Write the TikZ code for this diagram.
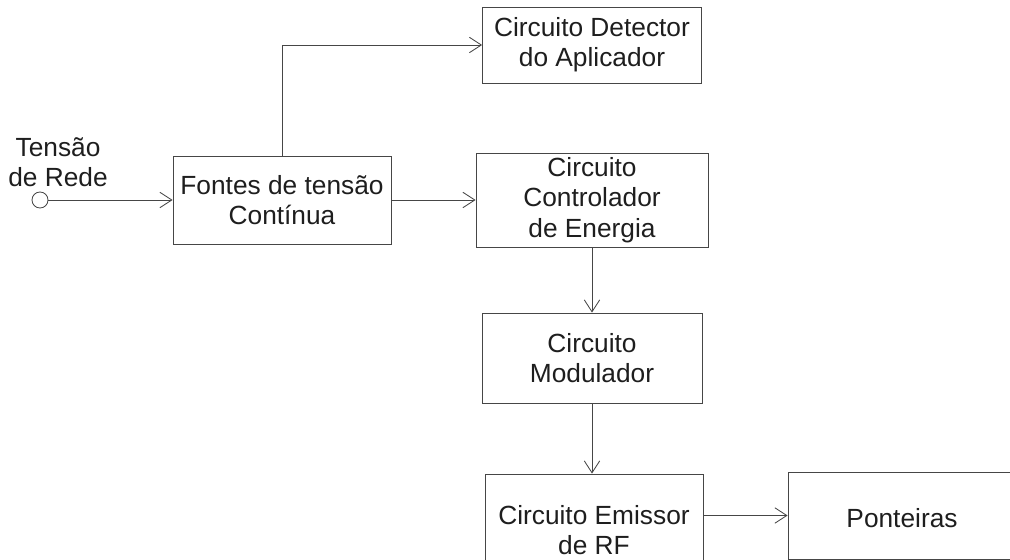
\documentclass[tikz,border=0pt]{standalone}
\usepackage{fontspec}
\setmainfont{Liberation Sans}
\usetikzlibrary{arrows.meta}
\definecolor{linegray}{RGB}{70,70,70}
\definecolor{textgray}{RGB}{30,30,30}

\begin{document}
\begin{tikzpicture}[
    blk/.style={rectangle, draw=linegray, line width=0.6pt, align=center, inner sep=0pt,
        text=textgray, font=\fontsize{18.7}{21.5}\selectfont},
    flow/.style={draw=linegray, line width=0.6pt, -{Straight Barb[length=8.5pt,width=11pt]}},
]
    \useasboundingbox (0,0) rectangle (25.25,14);

    % entrada
    \node[circle, draw=linegray, line width=0.6pt, minimum size=0.4cm, inner sep=0pt] (rede) at (1.0,9.0) {};
    \node[align=center, text=textgray, font=\fontsize{18.7}{21.5}\selectfont] (lblrede) at (1.45,9.95) {Tensão\\de Rede};

    \node[blk, minimum width=5.45cm, minimum height=2.2cm] (fontes) at (7.05,9.0) {Fontes de tensão\\Contínua};
    \node[blk, minimum width=5.475cm, minimum height=1.9cm] (detector) at (14.8,12.875) {Circuito Detector\\do Aplicador};
    \node[blk, minimum width=5.8cm, minimum height=2.35cm] (controlador) at (14.8,9.0) {Circuito\\Controlador\\de Energia};
    \node[blk, minimum width=5.5cm, minimum height=2.25cm] (modulador) at (14.8,5.05) {Circuito\\Modulador};
    \node[blk, minimum width=5.45cm, minimum height=2.8cm] (emissor) at (14.85,0.75) {Circuito Emissor\\de RF};
    \node[blk, minimum width=5.7cm, minimum height=2.175cm, text depth=0pt] (ponteiras) at (22.55,1.1125) {\raisebox{-4pt}{Ponteiras}};

    \draw[flow] (rede) -- (fontes);
    \draw[flow] (fontes.north) |- (detector.west);
    \draw[flow] (fontes) -- (controlador);
    \draw[flow] (controlador) -- (modulador);
    \draw[flow] (modulador.south) -- (modulador.south |- emissor.north);
    \draw[flow] (emissor.east |- ponteiras.west) -- (ponteiras.west);
\end{tikzpicture}
\end{document}
